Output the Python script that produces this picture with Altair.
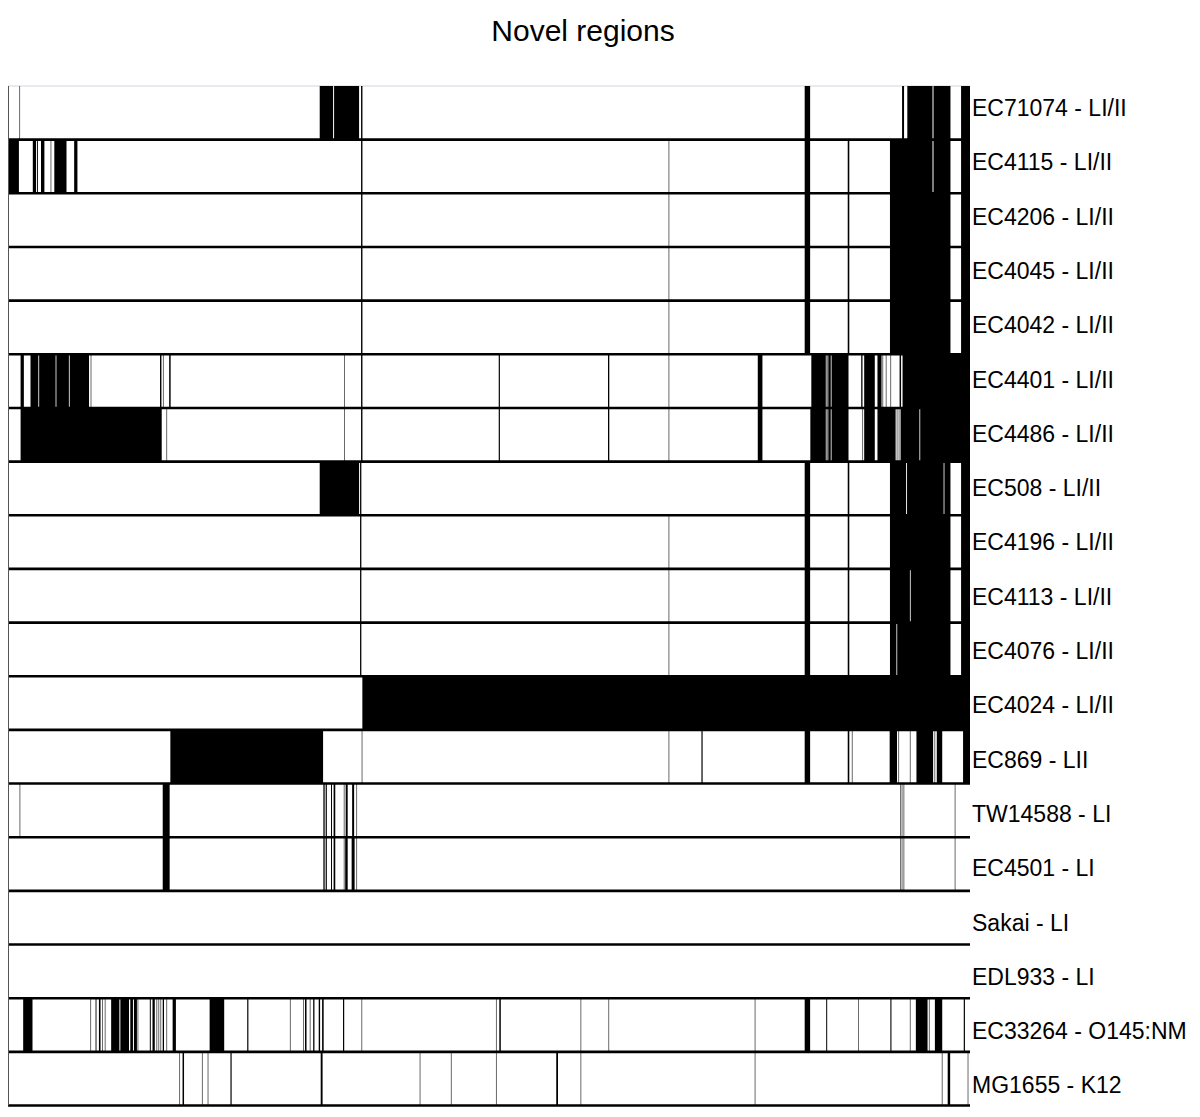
import altair as alt
import pandas as pd

title_text = "Novel regions"

strains = [
    "EC71074 - LI/II", "EC4115 - LI/II", "EC4206 - LI/II", "EC4045 - LI/II",
    "EC4042 - LI/II", "EC4401 - LI/II", "EC4486 - LI/II", "EC508 - LI/II",
    "EC4196 - LI/II", "EC4113 - LI/II", "EC4076 - LI/II", "EC4024 - LI/II",
    "EC869 - LII", "TW14588 - LI", "EC4501 - LI", "Sakai - LI", "EDL933 - LI",
    "EC33264 - O145:NM", "MG1655 - K12",
]

# genome position of novel regions (black blocks: start, end) and thin single hits
ec71074_blocks = [[314.3, 327.8], [328.8, 354], [356, 357.4], [803.3, 808.8], [901.5, 903.5],
                  [906.8, 932.2], [933.2, 950.3], [961, 970]]
ec71074_lines = [11.7]

ec4115_blocks = [[0, 11], [25, 28.3], [29.3, 30.2], [33.3, 36.7], [46.7, 59], [66.7, 70],
                 [356, 357.4], [803.3, 808.8], [846.7, 848.3], [889.3, 932.2], [933.2, 950.3], [961, 970]]
ec4115_lines = [43.3, 666.4]

ec4206_blocks = [[356, 357.4], [803.3, 808.8], [846.7, 848.3], [889.3, 950.3], [961, 970]]
ec4206_lines = [666.4]

ec4045_blocks = [[356, 357.4], [803.3, 808.8], [846.7, 848.3], [889.3, 950.3], [961, 970]]
ec4045_lines = [666.4]

ec4042_blocks = [[356, 357.4], [803.3, 808.8], [846.7, 848.3], [889.3, 950.3], [961, 970]]
ec4042_lines = [666.4]

ec4401_blocks = [[12.7, 16], [22.7, 30.6], [31.4, 48], [48.8, 61.4], [62.2, 81.7], [153.3, 154.7],
                 [162.5, 164], [356, 357.4], [494.8, 496], [605, 606.3], [756, 760.7],
                 [810, 824.6], [825.4, 826.3], [827.1, 829.6], [830.4, 847.5], [860.3, 861.6],
                 [863.3, 874], [876.7, 880.8], [899, 900.5], [902, 970]]
ec4401_lines = [83.7, 156.7, 339.3, 666.4, 882, 885.5, 890]

ec4486_blocks = [[12.7, 155], [356, 357.4], [494.8, 496], [605, 606.3], [756, 760.7],
                 [809, 824.6], [825.4, 826.3], [827.1, 829.6], [830.4, 847.5], [863.3, 874],
                 [876.7, 895], [900, 919], [919.8, 970]]
ec4486_lines = [160, 339.3, 666.4, 861.7, 896.5, 898.5]

ec508_blocks = [[314.3, 354], [355, 356.3], [803.3, 808.8], [846.7, 848.3], [889.3, 905.6],
                [906.5, 943.4], [944.2, 950.3], [961, 970]]
ec508_lines = []

ec4196_blocks = [[355, 356.3], [803.3, 808.8], [846.7, 848.3], [889.3, 950.3], [961, 970]]
ec4196_lines = [666.4]

ec4113_blocks = [[355, 356.3], [803.3, 808.8], [846.7, 848.3], [889.3, 909.4], [910.2, 950.3], [961, 970]]
ec4113_lines = [666.4]

ec4076_blocks = [[355, 356.3], [803.3, 808.8], [846.7, 848.3], [889.3, 895.8], [896.6, 950.3], [961, 970]]
ec4076_lines = [666.4]

ec4024_blocks = [[357.3, 970]]
ec4024_lines = []

ec869_blocks = [[163.7, 317.7], [699.2, 700.4], [803.3, 808.8], [846.7, 848.3], [889, 896.4],
                [916, 932.8], [936.5, 942], [963, 970]]
ec869_lines = [357, 666.4, 851.3, 898, 909.8, 934.5]

tw14588_blocks = [[156, 163], [318, 319.3], [320.3, 321.5], [325.7, 326.7], [328.3, 330],
                  [340.5, 342.5], [347, 349]]
tw14588_lines = [12, 339, 351.5, 900, 901.5, 903.3, 955]

ec4501_blocks = [[156, 163], [318, 319.3], [320.3, 321.5], [325.7, 326.7], [328.3, 330],
                 [340, 342.5], [346.5, 349.5]]
ec4501_lines = [339, 351.5, 900, 901.5, 903.3, 955]

sakai_blocks = []
sakai_lines = []

edl933_blocks = []
edl933_lines = []

ec33264_blocks = [[15.3, 24.7], [88.3, 89.2], [91.7, 93.3], [104, 112.3], [113.3, 122], [123.3, 126],
                  [127, 130], [143, 144], [145.7, 148], [156, 157.3], [166, 169.3], [203.3, 218],
                  [241.2, 242.4], [299.5, 301], [307.7, 309], [313.3, 314.7], [316.7, 318.3],
                  [337.8, 339], [495.4, 496.9], [803.3, 808.8], [825, 826], [889.7, 890.8],
                  [915.4, 927.2], [934.6, 942], [963.7, 964.9]]
ec33264_lines = [83.3, 95.3, 98, 131, 150, 152, 154, 160, 284.7, 298, 304.7, 356.7, 492.5,
                 577.6, 605.7, 753.3, 857.6, 909.8, 929]

mg1655_blocks = [[176, 177.5], [224.3, 225.5], [315.3, 317.2], [552.8, 554.6], [947.5, 950]]
mg1655_lines = [173, 196, 201.7, 415.5, 447, 492.5, 577.6, 753.3, 942, 968]

row_blocks = [ec71074_blocks, ec4115_blocks, ec4206_blocks, ec4045_blocks, ec4042_blocks,
              ec4401_blocks, ec4486_blocks, ec508_blocks, ec4196_blocks, ec4113_blocks,
              ec4076_blocks, ec4024_blocks, ec869_blocks, tw14588_blocks, ec4501_blocks,
              sakai_blocks, edl933_blocks, ec33264_blocks, mg1655_blocks]
row_lines = [ec71074_lines, ec4115_lines, ec4206_lines, ec4045_lines, ec4042_lines,
             ec4401_lines, ec4486_lines, ec508_lines, ec4196_lines, ec4113_lines,
             ec4076_lines, ec4024_lines, ec869_lines, tw14588_lines, ec4501_lines,
             sakai_lines, edl933_lines, ec33264_lines, mg1655_lines]

n = len(strains)
blocks_df = pd.DataFrame([
    {"row": i, "row_end": i + 1, "start": a, "end": b}
    for i, blocks in enumerate(row_blocks) for a, b in blocks
])
lines_df = pd.DataFrame([
    {"row": i, "row_end": i + 1, "pos": p}
    for i, lines in enumerate(row_lines) for p in lines
])
sep_df = pd.DataFrame({"y": list(range(1, n + 1))})
top_df = pd.DataFrame({"y": [0]})
left_df = pd.DataFrame({"x": [0], "y": [0], "y2": [n]})
labels_df = pd.DataFrame({"idx": list(range(n)), "label": strains})
title_df = pd.DataFrame({"t": [title_text]})

W = 962
H = 1019.5
xs = alt.Scale(domain=[0, 970], nice=False, zero=False)
ys = alt.Scale(domain=[0, n], reverse=True, nice=False, zero=False)

blocks = alt.Chart(blocks_df).mark_rect(color="black", strokeWidth=0).encode(
    x=alt.X("start:Q", scale=xs, axis=None),
    x2="end:Q",
    y=alt.Y("row:Q", scale=ys, axis=None),
    y2="row_end:Q",
)

thin = alt.Chart(lines_df).mark_rule(color="#6a6a6a", strokeWidth=1).encode(
    x=alt.X("pos:Q", scale=xs, axis=None),
    y=alt.Y("row:Q", scale=ys, axis=None),
    y2="row_end:Q",
)

seps = alt.Chart(sep_df).mark_rule(color="black", strokeWidth=2.6).encode(
    y=alt.Y("y:Q", scale=ys, axis=None),
    x=alt.value(0),
    x2=alt.value(W),
)

top = alt.Chart(top_df).mark_rule(color="#d4d4e0", strokeWidth=1.2).encode(
    y=alt.Y("y:Q", scale=ys, axis=None),
    x=alt.value(0),
    x2=alt.value(W),
)

left = alt.Chart(left_df).mark_rule(color="#555555", strokeWidth=2).encode(
    x=alt.X("x:Q", scale=xs, axis=None),
    y=alt.Y("y:Q", scale=ys, axis=None),
    y2="y2:Q",
)

lab_scale = alt.Scale(domain=[-0.5525, 18.2225], reverse=True, nice=False, zero=False)
labels = alt.Chart(labels_df).mark_text(
    align="left", baseline="alphabetic", fontSize=23, font="Liberation Sans", color="black"
).encode(
    x=alt.value(W + 2),
    y=alt.Y("idx:Q", scale=lab_scale, axis=None),
    text="label:N",
)

title = alt.Chart(title_df).mark_text(
    align="center", baseline="alphabetic", fontSize=30, font="Liberation Sans", color="black"
).encode(
    x=alt.value(575),
    y=alt.value(-45),
    text="t:N",
)

chart = alt.layer(top, blocks, thin, seps, left, labels, title).resolve_scale(
    y="independent"
).properties(
    width=W,
    height=H,
    autosize=alt.AutoSizeParams(type="none"),
    padding={"left": 0, "top": 78, "right": 220, "bottom": 4},
).configure_view(strokeWidth=0)

chart.save("out.html", embed_options={"renderer": "svg", "actions": False})
